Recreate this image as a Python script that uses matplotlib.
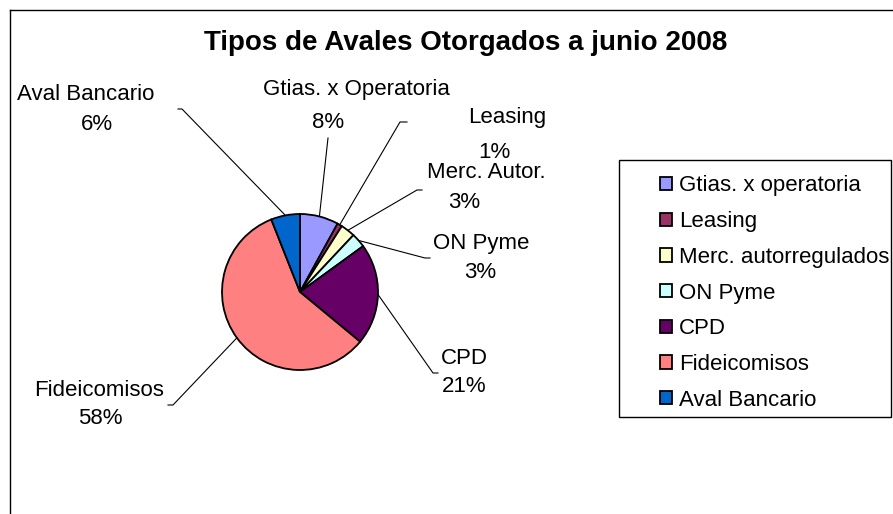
import numpy as np
import matplotlib.pyplot as plt
from matplotlib.patches import Rectangle

plt.rcParams['font.family'] = ['Liberation Sans', 'DejaVu Sans']

# data
pie_labels = ["Gtias. x Operatoria", "Leasing", "Merc. Autor.", "ON Pyme",
              "CPD", "Fideicomisos", "Aval Bancario"]
legend_labels = ["Gtias. x operatoria", "Leasing", "Merc. autorregulados",
                 "ON Pyme", "CPD", "Fideicomisos", "Aval Bancario"]
values = [8, 1, 3, 3, 21, 58, 6]
colors = ["#9999FF", "#993366", "#FFFFCC", "#CCFFFF", "#660066", "#FF8080", "#0066CC"]

W, H = 893, 514

# layout in pixels (x, y from top)
name_pos = [(356, 90), (507, 118), (486, 173), (481, 243), (464, 358), (99, 390), (86, 95)]
pct_pos = [(328, 123), (494, 152), (464, 202), (480, 273), (464, 387), (100, 418), (97, 125)]
elbows = [(328, 138), (400, 122), (417, 190), (425, 258), (433, 373), (173, 405), (182, 109)]
stubs = [None, 407, 422, 430, 438, 168, 178]

fig = plt.figure(figsize=(W / 100, H / 100), dpi=100)
ax = fig.add_axes([0, 0, 1, 1])

cx, cy, r = 300, H - 292, 78
wedges, _ = ax.pie(values, colors=colors, startangle=90, counterclock=False,
                   center=(cx, cy), radius=r,
                   wedgeprops=dict(edgecolor='black', linewidth=1.3))
ax.set_xlim(0, W)
ax.set_ylim(0, H)
ax.set_aspect('equal')
ax.axis('off')

def py(y):
    return H - y

# labels with leader lines
total = sum(values)
cum = 0
for i, v in enumerate(values):
    mid = (cum + v / 2) / total * 360
    cum += v
    ang = np.deg2rad(90 - mid)
    ax_, ay_ = cx + r * np.cos(ang), cy + r * np.sin(ang)
    ex, ey = elbows[i]
    xs = [ax_, ex]
    ys = [ay_, py(ey)]
    if stubs[i] is not None:
        xs.append(stubs[i])
        ys.append(py(ey))
    ax.plot(xs, ys, color='black', linewidth=0.8)
    ax.text(name_pos[i][0], py(name_pos[i][1]), pie_labels[i], ha='center', va='center', fontsize=16)
    ax.text(pct_pos[i][0], py(pct_pos[i][1]), f"{v}%", ha='center', va='center', fontsize=16)

ax.text(466, py(43), "Tipos de Avales Otorgados a junio 2008", ha='center', va='center',
        fontsize=20, fontweight='bold')

# chart frame (left and top edges visible)
ax.plot([10, 10], [0, py(10)], color='black', linewidth=1)
ax.plot([10, W], [py(10), py(10)], color='black', linewidth=1)

# legend box
ax.add_patch(Rectangle((619, py(417)), 272, 257, facecolor='none', edgecolor='black', linewidth=1))
ax.legend(wedges, legend_labels, loc='upper left', bbox_to_anchor=(660 / W, 1 - 175.5 / H),
          frameon=False, fontsize=16, borderpad=0, borderaxespad=0,
          handlelength=0.54, handleheight=0.54, handletextpad=0.32, labelspacing=0.66)

fig.savefig("out.png", dpi=100)
